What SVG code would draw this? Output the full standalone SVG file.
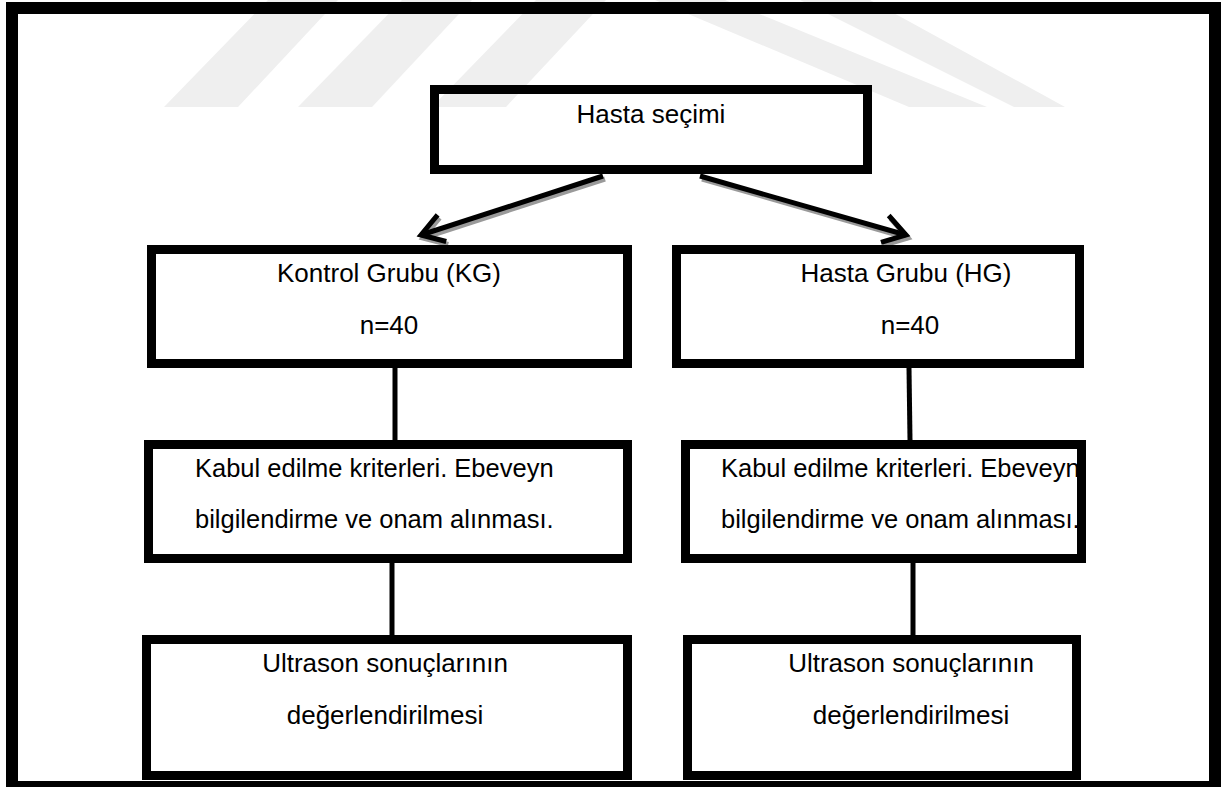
<svg xmlns="http://www.w3.org/2000/svg" width="1223" height="787" viewBox="0 0 1223 787">
<style>
.box{fill:none;stroke:#000;stroke-width:9}
.t{font-family:"Liberation Sans",Arial,sans-serif;font-size:26px;fill:#000}
.s{font-size:25.5px}
.c{text-anchor:middle}
.ln{stroke:#000;stroke-width:5;fill:none}
.sh{stroke:#9a9a9a;stroke-width:5;fill:none}
.wm{fill:#efefef}
</style>
<defs>
<marker id="ah" markerUnits="userSpaceOnUse" markerWidth="40" markerHeight="40" refX="0" refY="0" viewBox="-30 -20 40 40" orient="auto" overflow="visible">
<path d="M-22,-14 L0,0 L-22,14" fill="none" stroke="#000" stroke-width="5"/>
</marker>
<marker id="ahs" markerUnits="userSpaceOnUse" markerWidth="40" markerHeight="40" refX="0" refY="0" viewBox="-30 -20 40 40" orient="auto" overflow="visible">
<path d="M-22,-14 L0,0 L-22,14" fill="none" stroke="#9a9a9a" stroke-width="5"/>
</marker>
</defs>
<rect width="1223" height="787" fill="#fff"/>
<g id="watermark">
<polygon class="wm" points="164,107 238,107 338,0 268,0"/>
<polygon class="wm" points="298,107 372,107 472,0 402,0"/>
<polygon class="wm" points="432,107 506,107 606,0 536,0"/>
<polygon class="wm" points="655,0 725,0 987,107 909,107"/>
<polygon class="wm" points="800,0 870,0 1065,107 1014,107"/>
</g>
<rect x="12" y="8" width="1203" height="779" fill="none" stroke="#000" stroke-width="12"/>
<g id="connectors">
<line class="sh" x1="605" y1="179" x2="423" y2="238" marker-end="url(#ahs)"/>
<line class="ln" x1="603" y1="176" x2="421" y2="235" marker-end="url(#ah)"/>
<line class="sh" x1="702" y1="179" x2="908" y2="238" marker-end="url(#ahs)"/>
<line class="ln" x1="700" y1="176" x2="906" y2="235" marker-end="url(#ah)"/>
<line class="ln" x1="395" y1="368" x2="395" y2="440"/>
<line class="ln" x1="909" y1="368" x2="910" y2="440"/>
<line class="ln" x1="392" y1="563" x2="392" y2="635"/>
<line class="ln" x1="913" y1="563" x2="913" y2="635"/>
</g>
<g id="n-hasta-secimi">
<rect class="box" x="434.5" y="89.5" width="433" height="80"/>
<text class="t c" x="651" y="123">Hasta seçimi</text>
</g>
<g id="n-kg">
<rect class="box" x="151.5" y="249.5" width="476" height="114"/>
<text class="t c" x="389" y="282">Kontrol Grubu (KG)</text>
<text class="t c" x="389" y="334">n=40</text>
</g>
<g id="n-hg">
<rect class="box" x="676.5" y="249.5" width="403" height="114"/>
<text class="t c" x="906" y="282">Hasta Grubu (HG)</text>
<text class="t c" x="910" y="334">n=40</text>
</g>
<g id="n-kabul-kg">
<rect class="box" x="148.5" y="444.5" width="479" height="114"/>
<text class="t s" x="195" y="477">Kabul edilme kriterleri. Ebeveyn</text>
<text class="t s" x="195" y="528">bilgilendirme ve onam alınması.</text>
</g>
<g id="n-kabul-hg">
<rect class="box" x="685.5" y="444.5" width="396" height="114"/>
<text class="t s" x="721" y="477">Kabul edilme kriterleri. Ebeveyn</text>
<text class="t s" x="721" y="528">bilgilendirme ve onam alınması.</text>
</g>
<g id="n-us-kg">
<rect class="box" x="146.5" y="639.5" width="481" height="136"/>
<text class="t c" x="385" y="672">Ultrason sonuçlarının</text>
<text class="t c" x="385" y="724">değerlendirilmesi</text>
</g>
<g id="n-us-hg">
<rect class="box" x="687.5" y="639.5" width="389" height="136"/>
<text class="t c" x="911" y="672">Ultrason sonuçlarının</text>
<text class="t c" x="911" y="724">değerlendirilmesi</text>
</g>
</svg>
